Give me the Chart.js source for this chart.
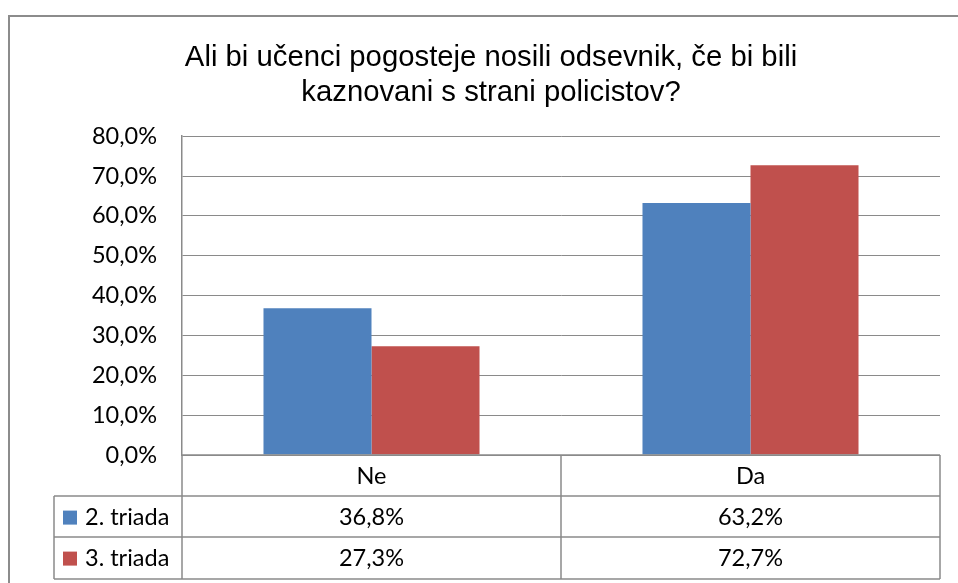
<!DOCTYPE html>
<html>
<head>
<meta charset="utf-8">
<script src="https://cdn.jsdelivr.net/npm/chart.js@4/dist/chart.umd.min.js"></script>
<style>
	html, body { margin: 0; padding: 0; background: #fff; }
	#wrap { width: 958px; height: 583px; }
</style>
</head>
<body>
<div id="wrap"><canvas id="chart" width="958" height="583"></canvas></div>
<script>
	const categories = ["Ne", "Da"];
	const seriesNames = ["2. triada", "3. triada"];
	const triada2 = [36.8, 63.2];
	const triada3 = [27.3, 72.7];
	const seriesColors = ["#4F81BD", "#C0504D"];
	const titleLines = ["Ali bi učenci pogosteje nosili odsevnik, če bi bili", "kaznovani s strani policistov?"];

	const lineColor = "#8a8a8a";
	const textFont = "23.5px Lato";

	function fmt(v) {
		return v.toFixed(1).replace(".", ",") + "%";
	}

	// frame + white background
	const framePlugin = {
		id: "frame",
		beforeDraw(chart) {
			const ctx = chart.ctx;
			ctx.save();
			ctx.fillStyle = "#fff";
			ctx.fillRect(0, 0, chart.width, chart.height);
			ctx.strokeStyle = "#8c8c8c";
			ctx.lineWidth = 2;
			ctx.beginPath();
			ctx.moveTo(9, chart.height);
			ctx.lineTo(9, 16);
			ctx.lineTo(chart.width, 16);
			ctx.stroke();
			ctx.restore();
		}
	};

	// data table under the plot, built from the x scale
	const tablePlugin = {
		id: "dataTable",
		afterDraw(chart) {
			const ctx = chart.ctx;
			const area = chart.chartArea;
			const x = chart.scales.x;
			const rowH = 41.2;
			const legendLeft = 54;
			const top = area.bottom;
			const rows = [top, top + rowH, top + rowH * 2, top + rowH * 3].map(Math.round);
			const half = (x.getPixelForValue(1) - x.getPixelForValue(0)) / 2;
			const cols = [area.left];
			categories.forEach((c, i) => cols.push(x.getPixelForValue(i) + half));

			ctx.save();
			ctx.strokeStyle = lineColor;
			ctx.lineWidth = 1.5;
			ctx.beginPath();
			ctx.moveTo(area.left, rows[0]); ctx.lineTo(area.right, rows[0]);
			for (let r = 1; r < rows.length; r++) {
				ctx.moveTo(legendLeft, rows[r]);
				ctx.lineTo(area.right, rows[r]);
			}
			cols.forEach((cx) => {
				ctx.moveTo(Math.round(cx), rows[0]);
				ctx.lineTo(Math.round(cx), rows[3]);
			});
			ctx.moveTo(legendLeft, rows[1]);
			ctx.lineTo(legendLeft, rows[3]);
			ctx.stroke();

			ctx.fillStyle = "#000";
			ctx.font = textFont;
			ctx.textBaseline = "middle";
			ctx.textAlign = "center";
			categories.forEach((c, i) => {
				ctx.fillText(c, x.getPixelForValue(i), rows[0] + rowH / 2 + 1);
			});

			[triada2, triada3].forEach((vals, s) => {
				const cy = rows[s + 1] + rowH / 2 + 1;
				ctx.fillStyle = seriesColors[s];
				ctx.fillRect(legendLeft + 9, cy - 7, 14, 14);
				ctx.fillStyle = "#000";
				ctx.textAlign = "left";
				ctx.fillText(seriesNames[s], legendLeft + 31, cy);
				ctx.textAlign = "center";
				vals.forEach((v, i) => ctx.fillText(fmt(v), x.getPixelForValue(i), cy));
			});
			ctx.restore();
		}
	};

	new Chart(document.getElementById("chart"), {
		type: "bar",
		data: {
			labels: categories,
			datasets: [
				{ label: seriesNames[0], data: triada2, backgroundColor: seriesColors[0] },
				{ label: seriesNames[1], data: triada3, backgroundColor: seriesColors[1] }
			]
		},
		options: {
			responsive: false,
			animation: false,
			devicePixelRatio: 1,
			layout: { padding: { left: 42, right: 18, top: 0, bottom: 128 } },
			datasets: {
				bar: { categoryPercentage: 0.57, barPercentage: 1.0 }
			},
			plugins: {
				legend: { display: false },
				tooltip: { enabled: false },
				title: {
					display: true,
					text: titleLines,
					color: "#000",
					font: { family: "Liberation Sans", size: 29.3, weight: "normal", lineHeight: 1.18 },
					padding: { top: 41, bottom: 26 }
				}
			},
			scales: {
				x: { display: false },
				y: {
					min: 0,
					max: 80,
					afterFit(scale) { scale.width = 140; },
					border: { display: true, color: lineColor, width: 1.5 },
					grid: { color: lineColor, drawTicks: false },
					ticks: {
						stepSize: 10,
						padding: 25,
						color: "#000",
						font: { family: "Lato", size: 23.5 },
						callback: (v) => fmt(v)
					}
				}
			}
		},
		plugins: [framePlugin, tablePlugin]
	});
</script>
</body>
</html>
